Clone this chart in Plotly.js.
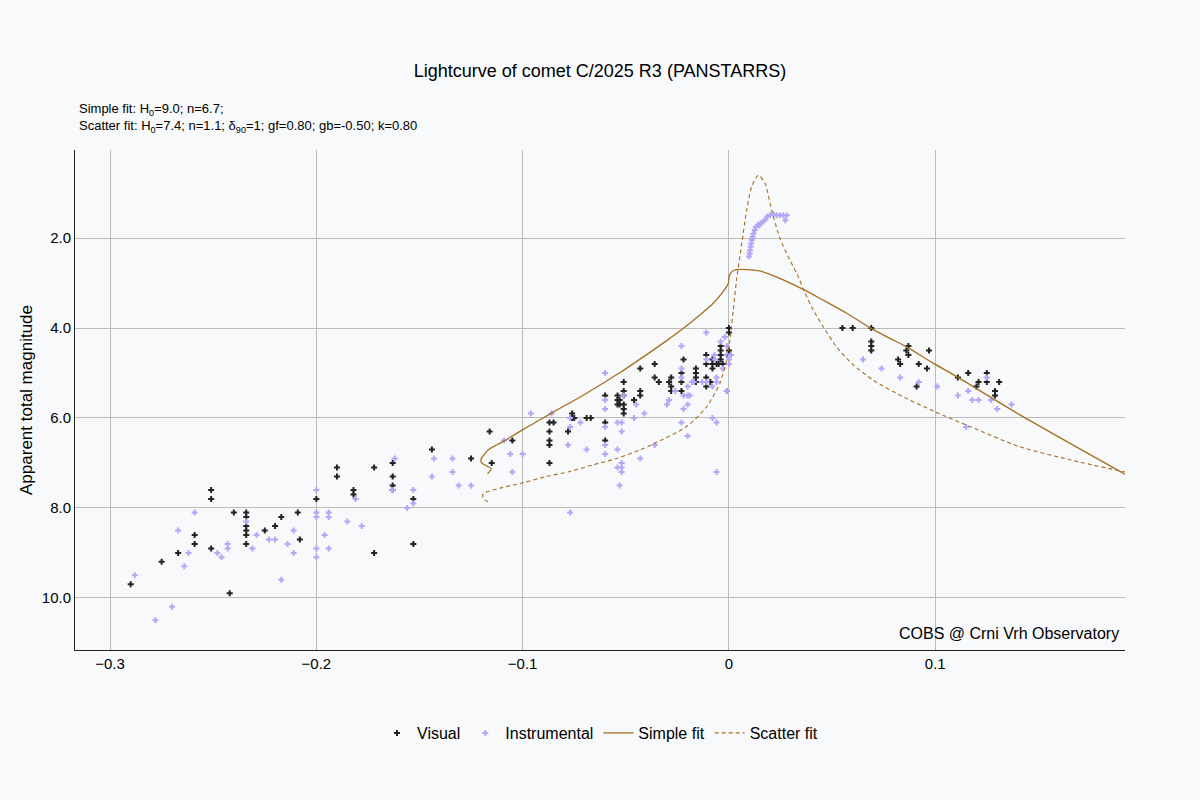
<!DOCTYPE html>
<html>
<head>
<meta charset="utf-8">
<script src="https://cdn.plot.ly/plotly-3.0.1.min.js"></script>
<style>
  html, body { margin: 0; padding: 0; background: #f8f9fa; }
  #plotly-chart { width: 1200px; height: 800px; }
</style>
</head>
<body>
<div id="plotly-chart"></div>
<script>
// values
const visualX = [-0.290, -0.275, -0.267, -0.259, -0.259, -0.251, -0.251, -0.251, -0.242, -0.240,
  -0.234, -0.234, -0.234, -0.234, -0.234, -0.234, -0.225, -0.220, -0.217, -0.209,
  -0.208, -0.200, -0.190, -0.190, -0.182, -0.182, -0.172, -0.172, -0.163, -0.163,
  -0.163, -0.163, -0.153, -0.153, -0.144, -0.125, -0.116, -0.115, -0.105, -0.087,
  -0.085, -0.087, -0.087, -0.087, -0.087, -0.076, -0.076, -0.075, -0.078, -0.069,
  -0.067, -0.060, -0.060, -0.060, -0.054, -0.054, -0.054, -0.053, -0.053, -0.051,
  -0.051, -0.051, -0.051, -0.051, -0.051, -0.046, -0.043, -0.043, -0.043, -0.036,
  -0.036, -0.034, -0.029, -0.028, -0.028, -0.028, -0.022, -0.023, -0.023, -0.023,
  -0.016, -0.016, -0.016, -0.016, -0.011, -0.011, -0.011, -0.011, -0.009, -0.008,
  -0.008, -0.008, -0.006, -0.005, -0.004, -0.004, -0.004, -0.004, -0.003, 0.000,
  0.000, 0.000, -0.001, 0.055, 0.060, 0.069, 0.069, 0.069, 0.069, 0.087,
  0.086, 0.087, 0.082, 0.083, 0.092, 0.097, 0.096, 0.091, 0.111, 0.116,
  0.121, 0.120, 0.125, 0.125, 0.131, 0.129, 0.129];
const visualMag = [9.7, 9.2, 9.0, 8.6, 8.8, 7.6, 7.8, 8.9, 9.9, 8.1,
  8.1, 8.2, 8.4, 8.5, 8.6, 8.8, 8.5, 8.4, 8.2, 8.1,
  8.7, 7.8, 7.1, 7.3, 7.6, 7.7, 7.1, 9.0, 7.0, 7.3,
  7.5, 7.6, 7.8, 8.8, 6.7, 6.9, 6.3, 7.0, 6.5, 6.1,
  6.1, 6.3, 6.5, 6.6, 7.0, 5.9, 6.0, 6.0, 6.3, 6.0,
  6.0, 5.5, 6.1, 6.5, 5.5, 5.6, 5.7, 5.6, 5.7, 5.2,
  5.4, 5.5, 5.7, 5.8, 5.9, 5.6, 5.4, 5.5, 4.9, 5.1,
  4.8, 5.2, 5.2, 5.1, 5.3, 5.4, 4.7, 5.0, 5.2, 5.4,
  4.9, 5.0, 5.1, 5.2, 4.6, 4.8, 5.1, 5.3, 5.2, 4.7,
  4.8, 4.9, 4.8, 4.8, 4.4, 4.5, 4.6, 4.7, 4.8, 4.0,
  4.1, 4.5, 5.4, 4.0, 4.0, 4.0, 4.3, 4.4, 4.5, 4.4,
  4.5, 4.6, 4.7, 4.8, 4.8, 4.5, 4.9, 5.3, 5.1, 5.0,
  5.2, 5.3, 5.0, 5.2, 5.2, 5.4, 5.5];

const instrX = [-0.288, -0.278, -0.270, -0.267, -0.264, -0.262, -0.259, -0.248, -0.246, -0.243,
  -0.243, -0.234, -0.231, -0.229, -0.223, -0.220, -0.217, -0.214, -0.211, -0.211,
  -0.200, -0.200, -0.200, -0.200, -0.200, -0.196, -0.194, -0.194, -0.194, -0.185,
  -0.181, -0.178, -0.162, -0.163, -0.156, -0.153, -0.153, -0.143, -0.144, -0.134,
  -0.134, -0.131, -0.125, -0.109, -0.106, -0.100, -0.105, -0.096, -0.086, -0.078,
  -0.069, -0.060, -0.060, -0.054, -0.054, -0.052, -0.052, -0.052, -0.053, -0.043,
  -0.077, -0.077, -0.077, -0.072, -0.060, -0.060, -0.060, -0.060, -0.054, -0.052,
  -0.052, -0.051, -0.046, -0.045, -0.041, -0.036, -0.030, -0.029, -0.026, -0.023,
  -0.023, -0.023, -0.022, -0.023, -0.020, -0.020, -0.022, -0.020, -0.019, -0.020,
  -0.018, -0.017, -0.013, -0.011, -0.011, -0.011, -0.008, -0.008, -0.006, -0.006,
  -0.006, -0.006, -0.007, -0.007, -0.004, -0.002, -0.003, -0.001, -0.001, -0.001,
  0.000, 0.001, 0.000,
  0.0097, 0.0100, 0.0102, 0.0105, 0.0108, 0.0111, 0.0115, 0.0118, 0.0125, 0.0131,
  0.0141, 0.0147, 0.0154, 0.0166, 0.0176, 0.0186, 0.0199, 0.0215, 0.0231, 0.0247,
  0.0263, 0.0280, 0.0273,
  0.065, 0.074, 0.083, 0.092, 0.101, 0.111, 0.116, 0.118, 0.121, 0.125,
  0.127, 0.130, 0.137, 0.115];
const instrMag = [9.5, 10.5, 10.2, 8.5, 9.3, 9.0, 8.1, 9.0, 9.1, 8.9,
  8.8, 8.3, 8.9, 8.6, 8.7, 8.7, 9.6, 8.8, 8.5, 9.0,
  7.6, 8.1, 8.2, 8.9, 9.1, 8.6, 8.1, 8.2, 8.9, 8.3,
  7.8, 8.4, 6.9, 7.6, 8.0, 7.6, 7.9, 6.9, 7.3, 6.9,
  7.2, 7.5, 7.5, 6.5, 6.8, 6.8, 7.2, 5.9, 5.9, 6.6,
  6.7, 6.6, 6.8, 6.7, 7.1, 7.0, 7.1, 7.2, 7.5, 6.9,
  8.1, 6.0, 6.2, 6.1, 5.0, 5.6, 5.8, 6.2, 6.1, 6.1,
  6.3, 5.5, 6.0, 5.7, 5.9, 6.6, 5.7, 5.6, 5.4, 4.4,
  4.9, 5.1, 5.8, 6.1, 6.4, 5.3, 5.5, 5.5, 5.5, 5.7,
  5.2, 5.2, 5.2, 5.2, 4.7, 4.1, 5.3, 6.0, 6.1, 5.2,
  5.1, 7.2, 4.6, 4.7, 4.3, 4.2, 4.9, 5.4, 4.4, 4.6,
  4.7, 4.6, 4.8,
  2.41, 2.34, 2.27, 2.19, 2.12, 2.04, 1.97, 1.90, 1.82, 1.75,
  1.70, 1.72, 1.67, 1.63, 1.59, 1.52, 1.49, 1.47, 1.49, 1.49,
  1.49, 1.49, 1.60,
  4.7, 4.9, 5.1, 5.2, 5.3, 5.5, 5.4, 5.6, 5.6, 5.1,
  5.6, 5.8, 5.7, 6.2];

const simpleX = [-0.1170, -0.1152, -0.1173, -0.1199, -0.1202, -0.1188, -0.1167, -0.1126, -0.1086, -0.1046,
  -0.0981, -0.0916, -0.0852, -0.0690, -0.0528, -0.0383, -0.0302, -0.0222, -0.0141, -0.0076,
  -0.0028, -0.0003, 0.0001, 0.0013, 0.0037, 0.0086, 0.0150, 0.0183, 0.0263, 0.0360,
  0.0457, 0.0571, 0.0683, 0.0780, 0.0861, 0.0990, 0.1104, 0.1411, 0.1920];
const simpleMag = [7.24, 7.13, 7.07, 7.00, 6.92, 6.82, 6.71, 6.60, 6.50, 6.39,
  6.21, 6.04, 5.87, 5.45, 4.99, 4.54, 4.28, 4.01, 3.71, 3.45,
  3.19, 3.01, 2.86, 2.75, 2.70, 2.70, 2.73, 2.78, 2.93, 3.14,
  3.38, 3.67, 3.99, 4.23, 4.42, 4.78, 5.08, 5.93, 7.25];

const scatterX = [-0.1167, -0.1188, -0.1194, -0.1183, -0.1110, -0.0997, -0.0884, -0.0771, -0.0658, -0.0544,
  -0.0431, -0.0367, -0.0205, -0.0108, -0.0044, -0.0011, 0.0005, 0.0021, 0.0037, 0.0062,
  0.0086, 0.0110, 0.0142, 0.0175, 0.0207, 0.0247, 0.0286, 0.0330, 0.0368, 0.0409,
  0.0457, 0.0522, 0.0603, 0.0700, 0.0845, 0.0999, 0.1168, 0.1411, 0.1653, 0.1920];
const scatterMag = [7.86, 7.81, 7.71, 7.66, 7.56, 7.44, 7.30, 7.19, 7.04, 6.90,
  6.71, 6.58, 6.19, 5.75, 5.23, 4.71, 4.27, 3.60, 2.93, 2.12,
  1.38, 0.86, 0.60, 0.78, 1.38, 2.00, 2.40, 2.80, 3.21, 3.60,
  3.97, 4.42, 4.82, 5.16, 5.53, 5.86, 6.19, 6.64, 6.93, 7.20];

const fitColor = '#a66f1e';
const font = 'Liberation Sans, Arial, Helvetica, sans-serif';

const data = [
    {
        x: visualX, y: visualMag,
        type: 'scatter', mode: 'markers', name: 'Visual',
        marker: { symbol: 'cross', size: 5, color: '#222222' }
    },
    {
        x: instrX, y: instrMag,
        type: 'scatter', mode: 'markers', name: 'Instrumental',
        marker: { symbol: 'cross', size: 5, color: '#b6a6f7' }
    },
    {
        x: simpleX, y: simpleMag,
        type: 'scatter', mode: 'lines', name: 'Simple fit',
        line: { color: fitColor, width: 1.3, shape: 'spline', smoothing: 0.7 }
    },
    {
        x: scatterX, y: scatterMag,
        type: 'scatter', mode: 'lines', name: 'Scatter fit',
        line: { color: fitColor, width: 1.1, dash: '4px,3px', shape: 'spline', smoothing: 0.7 }
    }
];

const layout = {
    width: 1200,
    height: 800,
    paper_bgcolor: '#f8f9fa',
    plot_bgcolor: '#f8f9fa',
    font: { family: font, color: '#000' },
    margin: { l: 75, r: 75, t: 150, b: 150 },
    title: {
        text: 'Lightcurve of comet C/2025 R3 (PANSTARRS)',
        font: { size: 18 },
        x: 0.5, xanchor: 'center',
        y: 0.912, yanchor: 'middle'
    },
    xaxis: {
        range: [-0.317, 0.192],
        tickvals: [-0.3, -0.2, -0.1, 0, 0.1],
        ticktext: ['\u22120.3', '\u22120.2', '\u22120.1', '0', '0.1'],
        tickfont: { size: 15 },
        showgrid: true, gridcolor: '#bbbbbb', gridwidth: 1,
        zeroline: false,
        showline: true, linecolor: '#222', linewidth: 1,
        ticks: ''
    },
    yaxis: {
        title: { text: 'Apparent total magnitude', font: { size: 17 }, standoff: 4 },
        range: [11.16, 0.04],
        tickvals: [2, 4, 6, 8, 10],
        tickformat: '.1f',
        tickfont: { size: 15 },
        showgrid: true, gridcolor: '#bbbbbb', gridwidth: 1,
        zeroline: false,
        showline: true, linecolor: '#222', linewidth: 1,
        ticks: ''
    },
    showlegend: true,
    legend: {
        orientation: 'h',
        x: 0.5, xanchor: 'center',
        y: -0.166, yanchor: 'middle',
        font: { size: 16 },
        bgcolor: 'rgba(0,0,0,0)'
    },
    annotations: [
        {
            xref: 'paper', yref: 'paper', x: 0, y: 1.08, xshift: 2,
            xanchor: 'left', yanchor: 'middle', showarrow: false, align: 'left',
            text: 'Simple fit: H<sub>0</sub>=9.0; n=6.7;',
            font: { size: 13 }
        },
        {
            xref: 'paper', yref: 'paper', x: 0, y: 1.046, xshift: 2,
            xanchor: 'left', yanchor: 'middle', showarrow: false, align: 'left',
            text: 'Scatter fit: H<sub>0</sub>=7.4; n=1.1; δ<sub>90</sub>=1; gf=0.80; gb=-0.50; k=0.80',
            font: { size: 13 }
        },
        {
            xref: 'paper', yref: 'paper', x: 1, y: 0.034, xshift: -4,
            xanchor: 'right', yanchor: 'middle', showarrow: false,
            text: 'COBS @ Crni Vrh Observatory',
            font: { size: 16 }
        }
    ]
};

Plotly.newPlot('plotly-chart', data, layout, { displayModeBar: false });
</script>
</body>
</html>
